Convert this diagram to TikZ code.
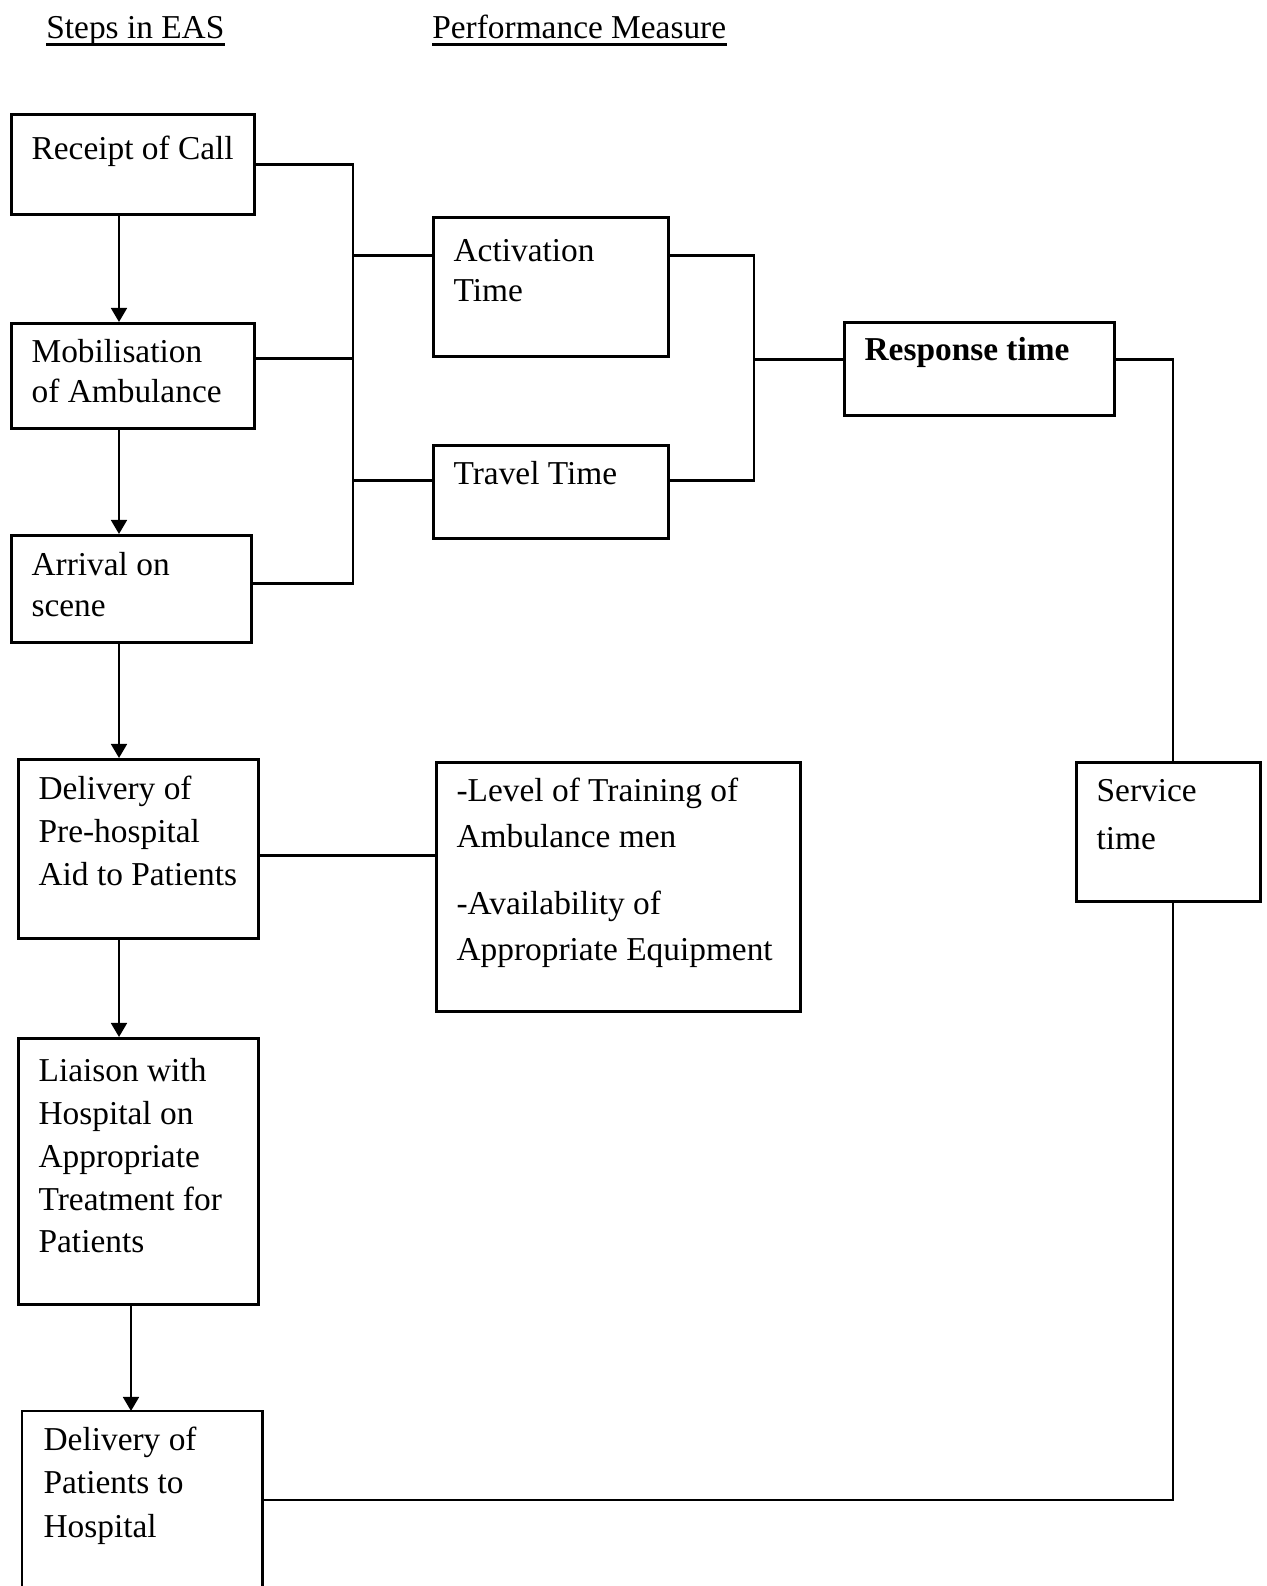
\documentclass[tikz,border=0pt]{standalone}
\usepackage{fontspec}
\setmainfont{Liberation Serif}
\usetikzlibrary{arrows.meta,calc}
\newdimen\pxu \pxu=0.02cm
% width, height (px), first baseline (px), baselineskip (pt), text
\newcommand{\tbox}[5]{\parbox[t][#2\pxu][t]{#1\pxu}{\raggedright\leftskip=11.5pt\relax\baselineskip=#4pt\relax\rule{0pt}{#3\pxu}#5}}
\begin{document}
\begin{tikzpicture}[x=0.02cm,y=-0.02cm,
  stepbox/.style={draw, line width=1.6pt, inner sep=0pt, anchor=north west, font={\fontsize{19pt}{24pt}\selectfont}},
  conn/.style={line width=1.4pt},
  arr/.style={line width=1.4pt,-{Triangle[width=9pt,length=8pt]}},
  hdr/.style={inner sep=0pt, anchor=base west, font={\fontsize{19pt}{24pt}\selectfont}}]
\useasboundingbox (0,0) rectangle (1267,1586);

% headers
\node[hdr] (h1) at (46,38) {Steps in EAS};
\node[hdr] (h2) at (432,38) {Performance Measure};
\draw[line width=1.8pt] ([yshift=-3.5pt]h1.base west) -- ([yshift=-3.5pt]h1.base east);
\draw[line width=1.8pt] ([yshift=-3.5pt]h2.base west) -- ([yshift=-3.5pt]h2.base east);

% left column
\node[stepbox] (rc) at (10,113) {\tbox{243}{100}{45}{24}{Receipt of Call}};
\node[stepbox] (mob) at (10,322) {\tbox{243}{105}{39}{23}{Mobilisation\\of Ambulance}};
\node[stepbox] (arv) at (10,534) {\tbox{240}{107}{40}{23.6}{Arrival on\\scene}};
\node[stepbox] (dpre) at (17,758) {\tbox{240}{179}{40}{24.4}{Delivery of\\Pre-hospital\\Aid to Patients}};
\node[stepbox] (lia) at (17,1037) {\tbox{240}{266}{43}{24.4}{Liaison with\\Hospital on\\Appropriate\\Treatment for\\Patients}};
\node[stepbox, draw=none] (dpat) at (22,1411) {\tbox{238}{175}{38}{24.7}{Delivery of\\Patients to\\Hospital}};
\draw[line width=1.6pt] (dpat.south west) -- (dpat.north west) -- (dpat.north east) -- (dpat.south east);

% middle / right
\node[stepbox] (act) at (432,216) {\tbox{235}{139}{44}{23}{Activation\\Time}};
\node[stepbox] (trv) at (432,444) {\tbox{235}{93}{39}{23}{Travel Time}};
\node[stepbox] (resp) at (843,321) {\tbox{270}{93}{38}{23}{\textbf{Response time}}};
\node[stepbox] (serv) at (1075,761) {\tbox{184}{139}{39}{27.6}{Service\\time}};
\node[stepbox] (trn) at (435,761) {\tbox{364}{249}{39}{26}{-Level of Training of\\Ambulance men\par\vspace{12.5pt}-Availability of\\Appropriate Equipment}};

% arrows down the left column
\coordinate (ax) at (119,0);
\coordinate (ax2) at (131,0);
\draw[arr] (rc.south -| ax) -- (mob.north -| ax);
\draw[arr] (mob.south -| ax) -- (arv.north -| ax);
\draw[arr] (arv.south -| ax) -- (dpre.north -| ax);
\draw[arr] (dpre.south -| ax) -- (lia.north -| ax);
\draw[arr] (lia.south -| ax2) -- (dpat.north -| ax2);

% connection points
\coordinate (mobR) at ($(mob.north east)!0.34!(mob.south east)$);
\coordinate (arvR) at ($(arv.north east)!0.45!(arv.south east)$);
\coordinate (actL) at ($(act.north west)!0.28!(act.south west)$);
\coordinate (actR) at ($(act.north east)!0.28!(act.south east)$);
\coordinate (trvL) at ($(trv.north west)!0.38!(trv.south west)$);
\coordinate (trvR) at ($(trv.north east)!0.38!(trv.south east)$);
\coordinate (respL) at ($(resp.north west)!0.40!(resp.south west)$);
\coordinate (respR) at ($(resp.north east)!0.40!(resp.south east)$);
\coordinate (trnL) at ($(trn.north west)!0.376!(trn.south west)$);
\coordinate (busL) at (353,0);
\coordinate (busR) at (754,0);
\coordinate (sv) at (1173,0);

% left bus
\draw[conn] (rc.east) -| (busL |- arvR) -- (arvR);
\draw[conn] (mobR) -- (mobR -| busL);
\draw[conn] (busL |- actL) -- (actL);
\draw[conn] (busL |- trvL) -- (trvL);

% right bus
\draw[conn] (actR) -| (busR |- trvR) -- (trvR);
\draw[conn] (busR |- respL) -- (respL);

% response -> service -> delivery of patients
\draw[conn] (respR) -| (serv.north -| sv);
\draw[conn] (serv.south -| sv) |- (dpat.east);

% pre-hospital aid -> training box
\draw[conn] (trnL -| dpre.east) -- (trnL);
\end{tikzpicture}
\end{document}
